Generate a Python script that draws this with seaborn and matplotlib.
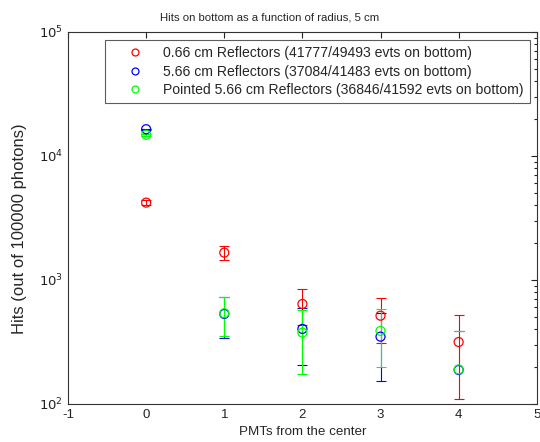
import numpy as np
import pandas as pd
import matplotlib
matplotlib.use("Agg")
import matplotlib.pyplot as plt
import seaborn as sns
from matplotlib.lines import Line2D
from matplotlib.ticker import LogLocator, NullFormatter, FixedLocator

# ---- data ----
pmts = [0, 1, 2, 3, 4]
red_vals = [4200, 1660, 640, 515, 316]
red_err = [200, 210, 206, 205, 206]
blue_vals = [16400, 532, 403, 349, 188]
blue_err = [220, 190, 195, 196, 197]
green_vals = [14800, 539, 376, 388, 190]
green_err = [220, 189, 200, 190, 195]
labels = ["0.66 cm Reflectors (41777/49493 evts on bottom)",
          "5.66 cm Reflectors (37084/41483 evts on bottom)",
          "Pointed 5.66 cm Reflectors (36846/41592 evts on bottom)"]
colors = ["#ff0000", "#0000ff", "#00ff00"]

sns.set_style("white")
plt.rcParams['font.family'] = ['Liberation Sans', 'DejaVu Sans']

fig = plt.figure(figsize=(5.4, 4.42), dpi=100)
ax = fig.add_axes([0.126, 0.086, 0.868, 0.842])

series = [(red_vals, red_err), (blue_vals, blue_err), (green_vals, green_err)]
for (vals, errs), col, lab in zip(series, colors, labels):
    vals = np.asarray(vals, float)
    errs = np.asarray(errs, float)
    ok = vals - errs > 0
    # full error bars where the lower bound is positive
    ax.errorbar(np.asarray(pmts)[ok], vals[ok], yerr=errs[ok], fmt='none',
                ecolor=col, elinewidth=0.8, capsize=3.5, capthick=0.8, zorder=2)
    # lower bound not representable on a log axis: only the upper cap remains
    if (~ok).any():
        ax.plot(np.asarray(pmts)[~ok], (vals + errs)[~ok], linestyle='none',
                marker='_', markersize=7, markeredgewidth=0.8, color=col, zorder=2)
    df = pd.DataFrame({"x": pmts, "y": vals})
    sns.scatterplot(data=df, x="x", y="y", ax=ax, marker='o', s=42,
                    facecolors='none', edgecolor=col, linewidth=0.9, zorder=3)

ax.set_yscale('log')
ax.set_xlim(-1, 5)
ax.set_ylim(100, 100000)
ax.set_xticks([-1, 0, 1, 2, 3, 4, 5])
ax.set_xticklabels(['-1', '0', '1', '2', '3', '4', '5'])
ax.yaxis.set_major_locator(FixedLocator([1e2, 1e3, 1e4, 1e5]))
ax.set_yticklabels([r'$10^{2}$', r'$10^{3}$', r'$10^{4}$', r'$10^{5}$'])
ax.yaxis.set_minor_locator(LogLocator(base=10, subs=np.arange(2, 10)))
ax.yaxis.set_minor_formatter(NullFormatter())
ax.tick_params(axis='both', which='both', direction='in', top=True, right=True,
               labelsize=9.5, colors='#222222', length=4, width=0.8)
ax.tick_params(axis='y', which='minor', length=2.5)
for sp in ax.spines.values():
    sp.set_color('#333333')
    sp.set_linewidth(0.8)

ax.set_xlabel("PMTs from the center", fontsize=9.6, labelpad=4)
ax.set_ylabel("Hits (out of 100000 photons)", fontsize=12)
ax.yaxis.set_label_coords(-0.088, 0.47)
ax.set_title("Hits on bottom as a function of radius, 5 cm", fontsize=8.2, pad=8,
             x=0.431)

handles = [Line2D([], [], linestyle='none', marker='o', markersize=5,
                  markerfacecolor='none', markeredgecolor=c, markeredgewidth=0.9)
           for c in colors]
leg = ax.legend(handles, labels, loc='upper right', bbox_to_anchor=(0.985, 0.978),
                fontsize=10.1, frameon=True, fancybox=False, edgecolor='#333333',
                borderpad=0.45, handletextpad=0.36, handlelength=3.3, labelspacing=0.3,
                borderaxespad=0)
leg.get_frame().set_linewidth(0.8)

fig.savefig("out.png", dpi=100)
